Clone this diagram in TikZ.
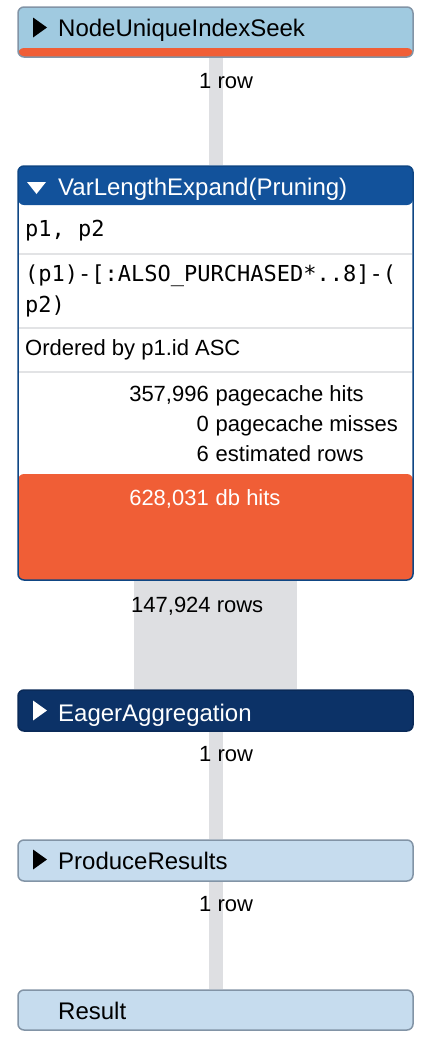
\documentclass[tikz,border=0pt]{standalone}
\usepackage{fontspec}
\setmainfont{Liberation Sans}
\setmonofont{DejaVu Sans Mono}
\usetikzlibrary{backgrounds,calc}

% colours of the plan
\definecolor{seekblue}{HTML}{A0CAE0}
\definecolor{paleblue}{HTML}{C6DCEE}
\definecolor{headblue}{HTML}{12529B}
\definecolor{navyblue}{HTML}{0C3267}
\definecolor{hitorange}{HTML}{F05E36}
\definecolor{pipegray}{HTML}{DEDFE2}
\definecolor{edgegray}{HTML}{8294A6}
\definecolor{rulegray}{HTML}{E2E3E5}

\tikzset{
  opbox/.style={rectangle,rounded corners=6pt,minimum width=395pt,inner sep=0pt,line width=1.5pt},
  optitle/.style={anchor=base west,inner sep=0pt,font=\fontsize{24}{28}\selectfont},
  opdetail/.style={anchor=base west,inner sep=0pt,font=\fontsize{22}{27}\selectfont},
  opcode/.style={anchor=base west,inner sep=0pt,font=\ttfamily\fontsize{22}{27}\selectfont},
  statnum/.style={anchor=base east,inner sep=0pt,font=\fontsize{22}{27}\selectfont},
  rowcount/.style={anchor=base west,inner sep=0pt,font=\fontsize{22}{27}\selectfont},
  pipe/.style={pipegray,line width=#1},
  pipe/.default=14pt
}

\begin{document}
\begin{tikzpicture}[x=1pt,y=-1pt]
  \useasboundingbox (0,0) rectangle (432,1044);
  % operator boxes
  \node[opbox,draw=edgegray,fill=seekblue,minimum height=50pt,
    path picture={\fill[hitorange] (path picture bounding box.south west)
      rectangle ($(path picture bounding box.south east)+(0,-9)$);}] (seek) at (215.5,32) {};
  \node[opbox,draw=headblue!85!black,fill=white,minimum height=414pt,
    path picture={
      \fill[headblue] (path picture bounding box.north west)
        rectangle ($(path picture bounding box.north east)+(0,39)$);
      \fill[hitorange] (path picture bounding box.south west)
        rectangle ($(path picture bounding box.south east)+(0,-106)$);}] (vle) at (215.5,373) {};
  \node[opbox,draw=navyblue!85!black,fill=navyblue,minimum height=41pt] (eager) at (215.5,710.5) {};
  \node[opbox,draw=edgegray,fill=paleblue,minimum height=41pt] (produce) at (215.5,860.5) {};
  \node[opbox,draw=edgegray,fill=paleblue,minimum height=40pt] (result) at (215.5,1010) {};

  % row pipes
  \begin{scope}[on background layer]
    \draw[pipe] (seek.south) -- (vle.north);
    \draw[pipe=163pt] (vle.south) -- (eager.north);
    \draw[pipe] (eager.south) -- (produce.north);
    \draw[pipe] (produce.south) -- (result.north);
  \end{scope}

  % rules inside the expand box
  \foreach \y in {254,328,372} {
    \draw[rulegray,line width=1.5pt] (19,\y) -- (412,\y);
  };

  % titles
  \fill (33,17.5) -- (47,27.5) -- (33,37.5) -- cycle;
  \node[optitle] (seekname) at (58,36) {NodeUniqueIndexSeek};
  \fill[white] (27,182) -- (46,182) -- (36.5,194) -- cycle;
  \node[optitle,text=white] (vlename) at (58,195) {VarLengthExpand(Pruning)};
  \fill[white] (33,700.5) -- (47,710.5) -- (33,720.5) -- cycle;
  \node[optitle,text=white] (eagername) at (58,721) {EagerAggregation};
  \fill (33,849.5) -- (47,859.5) -- (33,869.5) -- cycle;
  \node[optitle] (producename) at (58,869) {ProduceResults};
  \node[optitle] (resultname) at (58,1019) {Result};

  % details
  \node[opcode] (ids) at (25,236) {p1, p2};
  \node[opcode] (patterna) at (25,281.5) {(p1)-[:ALSO\_PURCHASED*..8]-(};
  \node[opcode] (patternb) at (25,312.5) {p2)};
  \node[opdetail] (order) at (25,355) {Ordered by p1.id ASC};

  % statistics
  \node[statnum] (hitsnum) at (209,401) {357,996};
  \node[opdetail] (hitstxt) at (215.5,401) {pagecache hits};
  \node[statnum] (missnum) at (209,431) {0};
  \node[opdetail] (misstxt) at (215.5,431) {pagecache misses};
  \node[statnum] (estnum) at (209,461) {6};
  \node[opdetail] (esttxt) at (215.5,461) {estimated rows};
  \node[statnum,text=white] (dbnum) at (209,505) {628,031};
  \node[opdetail,text=white] (dbtxt) at (215.5,505) {db hits};

  % row counts
  \node[rowcount] (rowsa) at (199,88) {1 row};
  \node[rowcount] (rowsb) at (131,612) {147,924 rows};
  \node[rowcount] (rowsc) at (199,761) {1 row};
  \node[rowcount] (rowsd) at (199,911) {1 row};
\end{tikzpicture}
\end{document}
